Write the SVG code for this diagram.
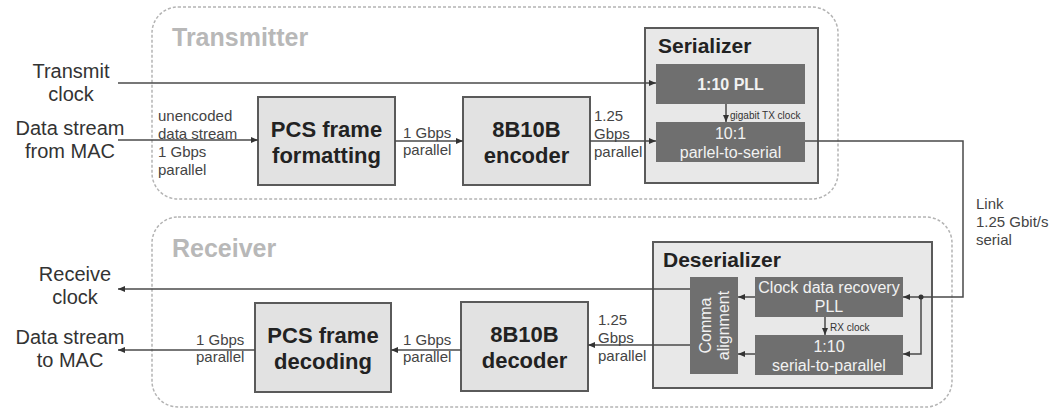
<svg xmlns="http://www.w3.org/2000/svg" width="1053" height="410" viewBox="0 0 1053 410">
  <style>
    text { font-family: "Liberation Sans", Arial, sans-serif; fill: #333; }
    .region { fill: none; stroke: #b4b4b4; stroke-width: 1.5; stroke-dasharray: 3 2; }
    .regionLabel { font-size: 25px; font-weight: bold; fill: #b8b8b8; }
    .ext { font-size: 20px; text-anchor: middle; }
    .small { font-size: 15px; fill: #444; }
    .tiny { font-size: 10px; fill: #333; }
    .block { fill: #e2e2e2; stroke: #5a5a5a; stroke-width: 2; }
    .blockText { font-size: 22px; font-weight: bold; text-anchor: middle; fill: #222; }
    .outer { fill: #e8e8e8; stroke: #5a5a5a; stroke-width: 2; }
    .outerTitle { font-size: 21px; font-weight: bold; fill: #222; }
    .inner { fill: #6f6f6f; }
    .innerText { font-size: 16px; text-anchor: middle; fill: #f2f2f2; }
    .wire { fill: none; stroke: #4a4a4a; stroke-width: 1.5; }
  </style>
  <defs>
    <marker id="arrow" markerUnits="userSpaceOnUse" markerWidth="8" markerHeight="8" refX="7" refY="4" orient="auto">
      <path d="M0,1 L7,4 L0,7 z" fill="#333"/>
    </marker>
  </defs>

  <!-- dashed regions -->
  <g id="transmitter-region">
    <rect class="region" x="152" y="7" width="686" height="192" rx="26"/>
    <text class="regionLabel" x="172" y="46">Transmitter</text>
  </g>
  <g id="receiver-region">
    <rect class="region" x="152" y="217" width="800" height="190" rx="26"/>
    <text class="regionLabel" x="172" y="257">Receiver</text>
  </g>

  <!-- external signal labels -->
  <g id="transmit-clock">
    <text class="ext" x="71" y="78">Transmit</text>
    <text class="ext" x="71" y="101">clock</text>
  </g>
  <g id="data-from-mac">
    <text class="ext" x="70" y="135">Data stream</text>
    <text class="ext" x="70" y="158">from MAC</text>
  </g>
  <g id="receive-clock">
    <text class="ext" x="75" y="281">Receive</text>
    <text class="ext" x="75" y="304">clock</text>
  </g>
  <g id="data-to-mac">
    <text class="ext" x="70" y="344">Data stream</text>
    <text class="ext" x="70" y="367">to MAC</text>
  </g>

  <!-- transmit path blocks -->
  <g id="pcs-formatting">
    <rect class="block" x="258" y="97" width="137" height="88"/>
    <text class="blockText" x="326.5" y="137">PCS frame</text>
    <text class="blockText" x="326.5" y="163">formatting</text>
  </g>
  <g id="encoder">
    <rect class="block" x="463" y="97" width="127" height="88"/>
    <text class="blockText" x="526.5" y="137">8B10B</text>
    <text class="blockText" x="526.5" y="163">encoder</text>
  </g>
  <g id="serializer">
    <rect class="outer" x="645" y="28" width="173" height="155"/>
    <text class="outerTitle" x="658" y="53">Serializer</text>
    <g id="tx-pll">
      <rect class="inner" x="656" y="64" width="149" height="40"/>
      <text class="innerText" x="730.5" y="90" font-weight="bold" font-size="15">1:10 PLL</text>
    </g>
    <g id="par-to-ser">
      <rect class="inner" x="656" y="122" width="149" height="40"/>
      <text class="innerText" x="730.5" y="139">10:1</text>
      <text class="innerText" x="730.5" y="158">parlel-to-serial</text>
    </g>
  </g>

  <!-- receive path blocks -->
  <g id="deserializer">
    <rect class="outer" x="653" y="242" width="279" height="146"/>
    <text class="outerTitle" x="663" y="267">Deserializer</text>
    <g id="comma-alignment">
      <rect class="inner" x="690" y="277" width="48" height="97"/>
      <text class="innerText" transform="translate(711,325.5) rotate(-90)" x="0" y="0">Comma</text>
      <text class="innerText" transform="translate(729,325.5) rotate(-90)" x="0" y="0">alignment</text>
    </g>
    <g id="cdr-pll">
      <rect class="inner" x="755" y="277" width="148" height="40"/>
      <text class="innerText" x="829" y="293" font-size="15.5">Clock data recovery</text>
      <text class="innerText" x="829" y="312">PLL</text>
    </g>
    <g id="ser-to-par">
      <rect class="inner" x="755" y="335" width="148" height="40"/>
      <text class="innerText" x="829" y="352">1:10</text>
      <text class="innerText" x="829" y="371">serial-to-parallel</text>
    </g>
  </g>
  <g id="decoder">
    <rect class="block" x="461" y="302" width="127" height="89"/>
    <text class="blockText" x="524.5" y="342">8B10B</text>
    <text class="blockText" x="524.5" y="368">decoder</text>
  </g>
  <g id="pcs-decoding">
    <rect class="block" x="255" y="303" width="136" height="89"/>
    <text class="blockText" x="323" y="343">PCS frame</text>
    <text class="blockText" x="323" y="369">decoding</text>
  </g>

  <!-- connectors -->
  <g id="connectors">
    <path class="wire" d="M118,83 H656" marker-end="url(#arrow)"/>
    <path class="wire" d="M118,140 H258" marker-end="url(#arrow)"/>
    <path class="wire" d="M395,141 H463" marker-end="url(#arrow)"/>
    <path class="wire" d="M590,141 H656" marker-end="url(#arrow)"/>
    <path class="wire" d="M726,104 V122" marker-end="url(#arrow)"/>
    <path class="wire" d="M805,141 H963 V297 H903" marker-end="url(#arrow)"/>
    <path class="wire" d="M921,297 V354 H903" marker-end="url(#arrow)"/>
    <circle cx="921" cy="297" r="2.5" fill="#333"/>
    <path class="wire" d="M825,317 V335" marker-end="url(#arrow)"/>
    <path class="wire" d="M755,297 H738" marker-end="url(#arrow)"/>
    <path class="wire" d="M755,354 H738" marker-end="url(#arrow)"/>
    <path class="wire" d="M690,289 H118" marker-end="url(#arrow)"/>
    <path class="wire" d="M690,345 H588" marker-end="url(#arrow)"/>
    <path class="wire" d="M461,350 H391" marker-end="url(#arrow)"/>
    <path class="wire" d="M255,350 H118" marker-end="url(#arrow)"/>

    <!-- connector labels -->
    <text class="small" x="158" y="121">unencoded</text>
    <text class="small" x="158" y="139">data stream</text>
    <text class="small" x="158" y="157">1 Gbps</text>
    <text class="small" x="158" y="175">parallel</text>
    <text class="small" x="403" y="138">1 Gbps</text>
    <text class="small" x="403" y="155">parallel</text>
    <text class="small" x="594" y="121">1.25</text>
    <text class="small" x="594" y="139">Gbps</text>
    <text class="small" x="594" y="157">parallel</text>
    <text class="tiny" x="730" y="119">gigabit TX clock</text>
    <text class="tiny" x="830" y="331">RX clock</text>
    <text class="small" x="976" y="209">Link</text>
    <text class="small" x="976" y="227">1.25 Gbit/s</text>
    <text class="small" x="976" y="245">serial</text>
    <text class="small" x="598" y="325">1.25</text>
    <text class="small" x="598" y="343">Gbps</text>
    <text class="small" x="598" y="361">parallel</text>
    <text class="small" x="403" y="345">1 Gbps</text>
    <text class="small" x="403" y="362">parallel</text>
    <text class="small" x="196" y="345">1 Gbps</text>
    <text class="small" x="196" y="362">parallel</text>
  </g>
</svg>
